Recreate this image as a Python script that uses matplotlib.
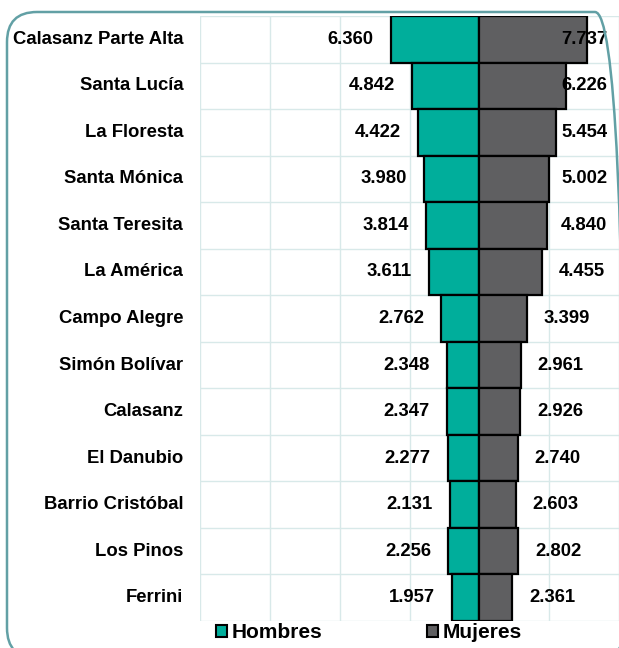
import matplotlib.pyplot as plt
from matplotlib.patches import FancyBboxPatch, Patch

barrios = ["Calasanz Parte Alta", "Santa Lucía", "La Floresta", "Santa Mónica",
           "Santa Teresita", "La América", "Campo Alegre", "Simón Bolívar",
           "Calasanz", "El Danubio", "Barrio Cristóbal", "Los Pinos", "Ferrini"]
hombres = [6360, 4842, 4422, 3980, 3814, 3611, 2762, 2348, 2347, 2277, 2131, 2256, 1957]
mujeres = [7737, 6226, 5454, 5002, 4840, 4455, 3399, 2961, 2926, 2740, 2603, 2802, 2361]

plt.rcParams["font.family"] = ["Liberation Sans", "DejaVu Sans"]
teal = "#00AE9B"
gris = "#5F5F61"
fs = 13.3


def fmt(v):
    return f"{v:,}".replace(",", ".")


fig = plt.figure(figsize=(6.19, 6.48), dpi=100)
W, H = 619, 648

# marco redondeado
frame = FancyBboxPatch((7, -10), 618, 646, boxstyle="round,pad=0,rounding_size=30",
                       transform=None, fill=False, edgecolor="#62A0A5", linewidth=1.8,
                       clip_on=False)
fig.patches.append(frame)

ax = fig.add_axes([200 / W, 27 / H, 419 / W, 605 / H])
y = list(range(len(barrios)))
ax.barh(y, [-v for v in hombres], height=1.0, color=teal, edgecolor="black",
        linewidth=1.6, zorder=3)
ax.barh(y, mujeres, height=1.0, color=gris, edgecolor="black", linewidth=1.6, zorder=3)

ax.set_xlim(-20000, 9400)
ax.set_ylim(len(barrios) - 0.5, -0.5)
ax.set_xticks(range(-20000, 10001, 5000))
ax.set_yticks([i - 0.5 for i in range(len(barrios) + 1)])
ax.tick_params(length=0, labelbottom=False, labelleft=False)
ax.grid(True, color="#D8E9E9", linewidth=1.0, zorder=0)
for s in ax.spines.values():
    s.set_visible(False)

for i, name in enumerate(barrios):
    ax.text(-20000 - 1200, i, name, ha="right", va="center", fontsize=fs,
            fontweight="bold")

gap = 1200
limit = 9150
for i, (h, m) in enumerate(zip(hombres, mujeres)):
    ax.text(-h - gap, i, fmt(h), ha="right", va="center", fontsize=fs,
            fontweight="bold", zorder=4)
    if m + gap + 3200 > limit:
        ax.text(limit, i, fmt(m), ha="right", va="center", fontsize=fs,
                fontweight="bold", zorder=4)
    else:
        ax.text(m + gap, i, fmt(m), ha="left", va="center", fontsize=fs,
                fontweight="bold", zorder=4)

handles = [Patch(facecolor=teal, edgecolor="black", linewidth=1.5),
           Patch(facecolor=gris, edgecolor="black", linewidth=1.5)]
fig.legend(handles, ["Hombres", "Mujeres"], loc="center left",
           bbox_to_anchor=(216 / W, 1 - 633 / H), ncol=2, frameon=False,
           borderpad=0, borderaxespad=0, handlelength=0.55, handleheight=0.55,
           handletextpad=0.2, columnspacing=5.0,
           prop={"size": 15, "weight": "bold"})

fig.savefig("out.png", dpi=100)
